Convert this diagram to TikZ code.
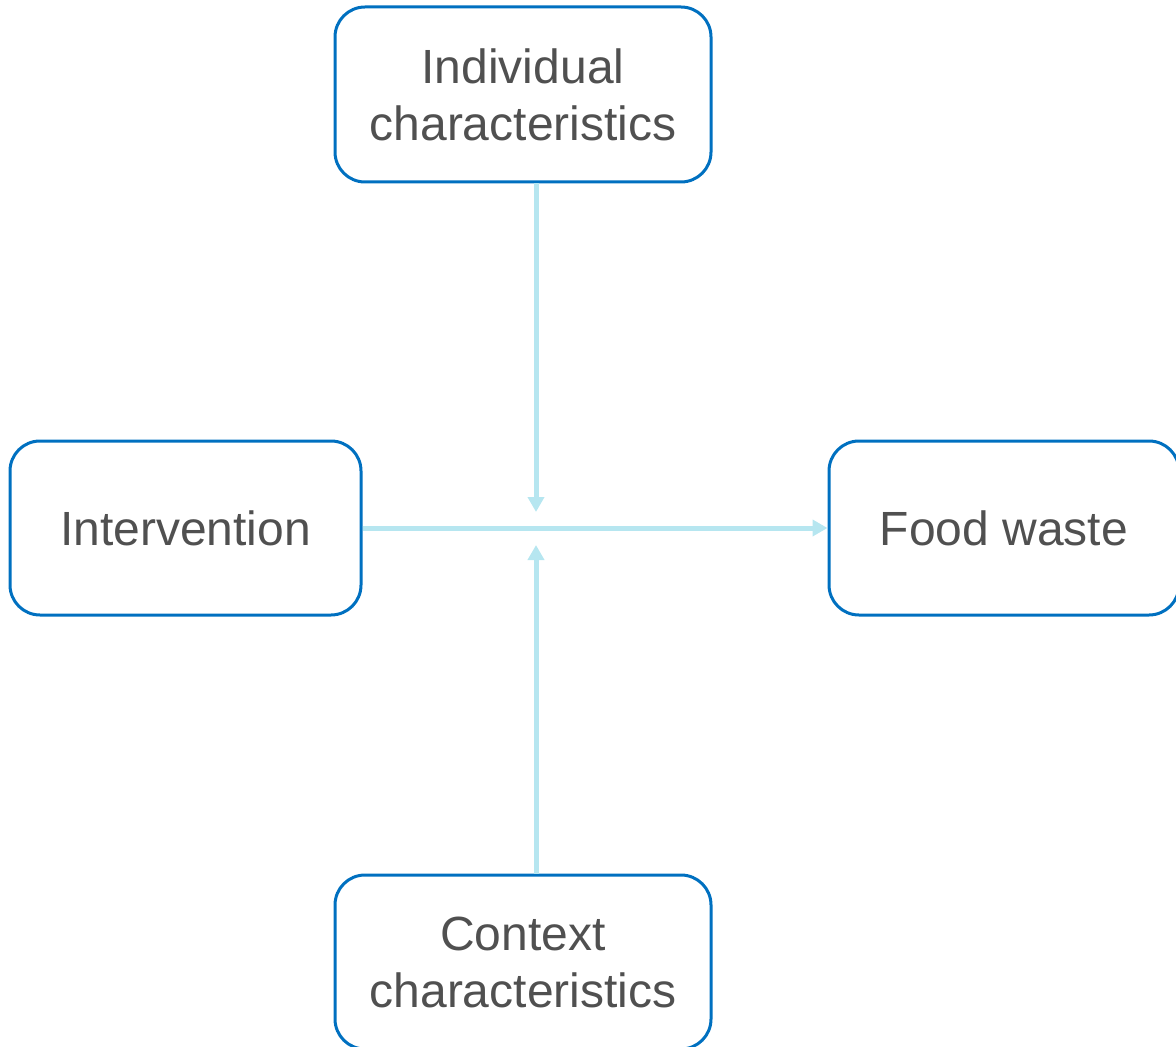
\documentclass[tikz,border=0pt]{standalone}
\usepackage{fontspec}
\setmainfont{Liberation Sans}
\usetikzlibrary{arrows.meta}
\definecolor{boxblue}{RGB}{0,112,192}
\definecolor{linkcyan}{RGB}{182,230,240}
\definecolor{textgray}{RGB}{80,80,80}
\begin{document}
\begin{tikzpicture}[x=0.5pt,y=-0.5pt,
  every node/.style={draw=boxblue,line width=1.5pt,rounded corners=15pt,text=textgray,
    align=center,font=\fontsize{24}{28.5}\selectfont,inner sep=0pt},
  link/.style={draw=linkcyan,line width=2.5pt,-{Triangle[width=8pt,length=7.5pt]}}]
  \useasboundingbox (0,0) rectangle (1176,1047);
  \node[minimum width=188pt,minimum height=87.5pt] (indiv) at (523,94.5) {Individual\\characteristics};
  \node[minimum width=175.5pt,minimum height=87pt] (interv) at (185.5,528) {Intervention};
  \node[minimum width=175pt,minimum height=87pt] (waste) at (1004,528) {Food waste};
  \node[minimum width=188pt,minimum height=87pt] (context) at (523,962) {Context\\characteristics};

  \coordinate (above) at (536,512);
  \coordinate (below) at (536,545);
  \draw[link] (indiv.south -| above) -- (above);
  \draw[link] (interv) -- (waste);
  \draw[link] (context.north -| below) -- (below);
\end{tikzpicture}
\end{document}
